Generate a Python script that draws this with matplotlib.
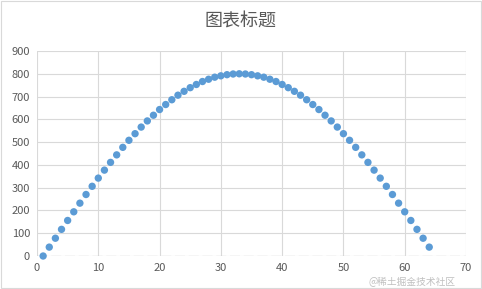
import matplotlib.pyplot as plt
from matplotlib.patches import Rectangle

plt.rcParams['font.family'] = ['Noto Sans CJK SC', 'DejaVu Sans']

# data
x = list(range(1, 65))
y = [0, 39, 78, 117, 156, 194, 232, 270, 306, 342, 377, 411, 444, 477, 508, 537,
     566, 593, 618, 643, 665, 686, 706, 723, 739, 753, 766, 776, 785, 791, 796, 799,
     800, 799, 796, 791, 785, 776, 766, 753, 739, 723, 706, 686, 665, 643, 618, 593,
     566, 537, 508, 477, 444, 411, 377, 342, 306, 270, 232, 194, 156, 117, 78, 39]
x_ticks = [0, 10, 20, 30, 40, 50, 60, 70]
y_ticks = [0, 100, 200, 300, 400, 500, 600, 700, 800, 900]

W, H = 482, 289
fig = plt.figure(figsize=(W / 100, H / 100), dpi=100)
fig.patch.set_facecolor('white')
fig.patches.append(Rectangle((0.002, 0.003), 0.996, 0.994, transform=fig.transFigure,
                             fill=False, edgecolor='#d9d9d9', linewidth=0.8))

left, right, top, bottom = 37, 466, 51, 256
ax = fig.add_axes([left / W, 1 - bottom / H, (right - left) / W, (bottom - top) / H])

ax.scatter(x, y, s=28, color='#5b9bd5', edgecolors='none', zorder=3, clip_on=False)

ax.set_xlim(0, 70)
ax.set_ylim(0, 900)
ax.set_xticks(x_ticks)
ax.set_yticks(y_ticks)
ax.grid(True, color='#d9d9d9', linewidth=0.8)
ax.set_axisbelow(True)
for s in ax.spines.values():
    s.set_visible(False)
# dashed-looking bottom axis line
ax.axhline(0, color='#c8c8c8', linewidth=0.9, dashes=(8, 3), zorder=2)
ax.tick_params(length=0, labelsize=8, colors='#595959', pad=5)

fig.text(0.5, 1 - 22 / H, '图表标题', ha='center', va='center', fontsize=13, color='#595959')
# watermark, nudged below the tick labels
fig.text(0.945, 1 - 282 / H, '@稀土掘金技术社区', ha='right', va='center', fontsize=7,
         color='#c0c0c0')

fig.savefig('out.png', dpi=100)
